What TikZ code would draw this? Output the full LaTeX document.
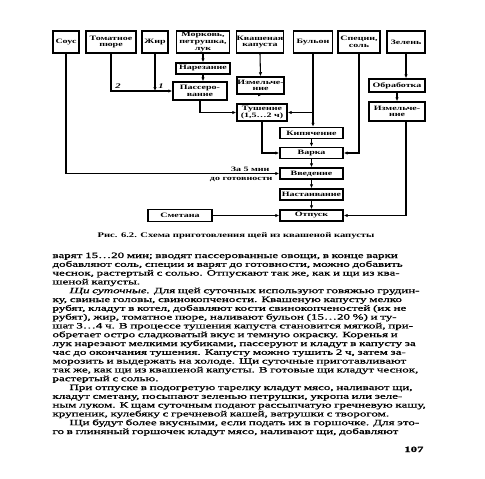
\documentclass[tikz,border=0pt]{standalone}
\usepackage{fontspec}
\setmainfont{Liberation Serif}
\newfontfamily\bodyfont[FakeStretch=1.6,FakeBold=1]{Liberation Serif}
\newfontfamily\boxfont[FakeStretch=1.5]{Liberation Serif}
\usetikzlibrary{arrows.meta}
\newcommand\tightlines{\setlength{\lineskiplimit}{-5pt}\relax}

\tikzset{every picture/.style={line width=0.75pt}}
\tikzset{
  blk/.style 2 args={draw, line width=1.1pt, inner sep=0pt, align=center,
    minimum width=#1*0.75pt, minimum height=#2*0.75pt,
    font=\boxfont\bfseries\fontsize{5.0}{5.0}\selectfont\tightlines},
  note/.style={inner sep=0pt, font=\boxfont\bfseries\fontsize{5.0}{5.0}\selectfont},
  flow/.style={line width=0.8pt, -{Latex[length=3pt,width=2.6pt]}},
  wire/.style={line width=0.8pt}
}
% lines of the page text
\newlength\indw \setlength\indw{12.75pt}
\newcommand\fullln[1]{\makebox[\linewidth][s]{#1}\par}
\newcommand\parln[1]{\hspace*{\indw}\makebox[\dimexpr\linewidth-\indw\relax][s]{#1}\par}
\newcommand\lastln[1]{#1\par}

\begin{document}
\begin{tikzpicture}[x=0.75pt,y=0.75pt,yscale=-1,xscale=1]
	\useasboundingbox (0,0) rectangle (485,478);
	
	%Top row
	\node (sous) [blk={26}{22}] at (66,42) {Соус};
	\node (tomato) [blk={50}{22}] at (111,42) {Томатное\\пюре};
	\node (fat) [blk={26}{22}] at (155,42) {Жир};
	\node (veg) [blk={53}{22}] at (203,42) {Морковь,\\петрушка,\\лук};
	\node (kraut) [blk={46}{22}] at (260,42) {Квашеная\\капуста};
	\node (broth) [blk={39}{22}] at (313,42) {Бульон};
	\node (spice) [blk={42}{22}] at (359,42) {Специи,\\соль};
	\node (greens) [blk={38}{22}] at (406,42) {Зелень};
	
	%Operations
	\node (cut) [blk={54}{11}] at (203,68.5) {Нарезание};
	\node (saute) [blk={54}{18}] at (200,91) {Пассеро-\\вание};
	\node (chopk) [blk={47}{17}] at (260.5,85.5) {Измельче-\\ние};
	\node (stew) [blk={50}{17}] at (262,112.5) {Тушение\\(1,5…2 ч)};
	\node (treat) [blk={56}{13}] at (397,85.5) {Обработка};
	\node (chopg) [blk={56}{19}] at (397,111.5) {Измельче-\\ние};
	\node (boil) [blk={63}{11}] at (311.5,133) {Кипячение};
	\node (cook) [blk={63}{11}] at (311.5,153) {Варка};
	\node (intro) [blk={63}{11}] at (311.5,173.5) {Введение};
	\node (steep) [blk={63}{11}] at (311.5,194.5) {Настаивание};
	\node (serve) [blk={63}{11}] at (311.5,215.5) {Отпуск};
	\node (sour) [blk={64}{12}] at (180,215.5) {Сметана};
	
	%Connectors
	\draw [flow] (tomato.south) |- (saute.west);
	\draw [flow] (fat.south) -- (fat.south |- saute.west);
	\draw [flow] (veg.south) -- (cut.north);
	\draw [flow] (cut.south) -- (cut.south |- saute.north);
	\draw [flow] (saute.south) |- (stew.west);
	\draw [flow] (kraut.south) -- (chopk.north);
	\draw [flow] (chopk.south) -- (chopk.south -| stew.north);
	\draw [flow] (broth.south) -- (broth.south |- boil.north);
	\draw [flow] (broth.south |- stew.east) -- (stew.east);
	\draw [flow] (stew.south) |- (cook.west);
	\draw [flow] (spice.south) |- (cook.east);
	\draw [flow] (boil) -- (cook);
	\draw [flow] (cook) -- (intro);
	\draw [flow] (intro) -- (steep);
	\draw [flow] (steep) -- (serve);
	\draw [flow] (sous.south) |- (intro.west);
	\draw [flow] (greens.south) -- (greens.south |- treat.north);
	\draw [flow] (treat) -- (chopg);
	\draw [flow] (chopg.south -| greens.south) |- (serve.east);
	\draw [flow] (sour) -- (serve);
	
	% Text Node
	\node (two) [note, font=\boxfont\bfseries\itshape\fontsize{5.3}{5.3}\selectfont] at (118,86) {2};
	\node (one) [note, font=\boxfont\bfseries\itshape\fontsize{5.3}{5.3}\selectfont] at (161,86) {1};
	\node (before) [note, anchor=east] at (270,169) {За 5 мин};
	\node (ready) [note, anchor=east] at (273,180) {до готовности};
	
	% Text Node
	\node (caption) [anchor=base, inner sep=0pt, font=\boxfont\bfseries\fontsize{5.3}{6}\selectfont] at (236,237.5) {Рис. 6.2. Схема приготовления щей из квашеной капусты};
	
	% Text Node
	\node (body) [anchor=base west, inner sep=0pt, text width=372*0.75pt, font=\bodyfont\fontsize{6.1}{6.6}\selectfont\tightlines] at (52,258) {%
		\fullln{варят 15…20 мин; вводят пассерованные овощи, в конце варки}
		\fullln{добавляют соль, специи и варят до готовности, можно добавить}
		\fullln{чеснок, растертый с солью. Отпускают так же, как и щи из ква-}
		\lastln{шеной капусты.}
		\parln{\textit{Щи суточные.} Для щей суточных используют говяжью грудин-}
		\fullln{ку, свиные головы, свинокопчености. Квашеную капусту мелко}
		\fullln{рубят, кладут в котел, добавляют кости свинокопченостей (их не}
		\fullln{рубят), жир, томатное пюре, наливают бульон (15…20 \%) и ту-}
		\fullln{шат 3…4 ч. В процессе тушения капуста становится мягкой, при-}
		\fullln{обретает остро сладковатый вкус и темную окраску. Коренья и}
		\fullln{лук нарезают мелкими кубиками, пассеруют и кладут в капусту за}
		\fullln{час до окончания тушения. Капусту можно тушить 2 ч, затем за-}
		\fullln{морозить и выдержать на холоде. Щи суточные приготавливают}
		\fullln{так же, как щи из квашеной капусты. В готовые щи кладут чеснок,}
		\lastln{растертый с солью.}
		\parln{При отпуске в подогретую тарелку кладут мясо, наливают щи,}
		\fullln{кладут сметану, посыпают зеленью петрушки, укропа или зеле-}
		\fullln{ным луком. К щам суточным подают рассыпчатую гречневую кашу,}
		\lastln{крупеник, кулебяку с гречневой кашей, ватрушки с творогом.}
		\parln{Щи будут более вкусными, если подать их в горшочке. Для это-}
		\fullln{го в глиняный горшочек кладут мясо, наливают щи, добавляют}};
	
	% Text Node
	\node (page) [anchor=base east, inner sep=0pt, font=\bodyfont\bfseries\fontsize{6}{6}\selectfont] at (424,452) {107};
	
\end{tikzpicture}
\end{document}
